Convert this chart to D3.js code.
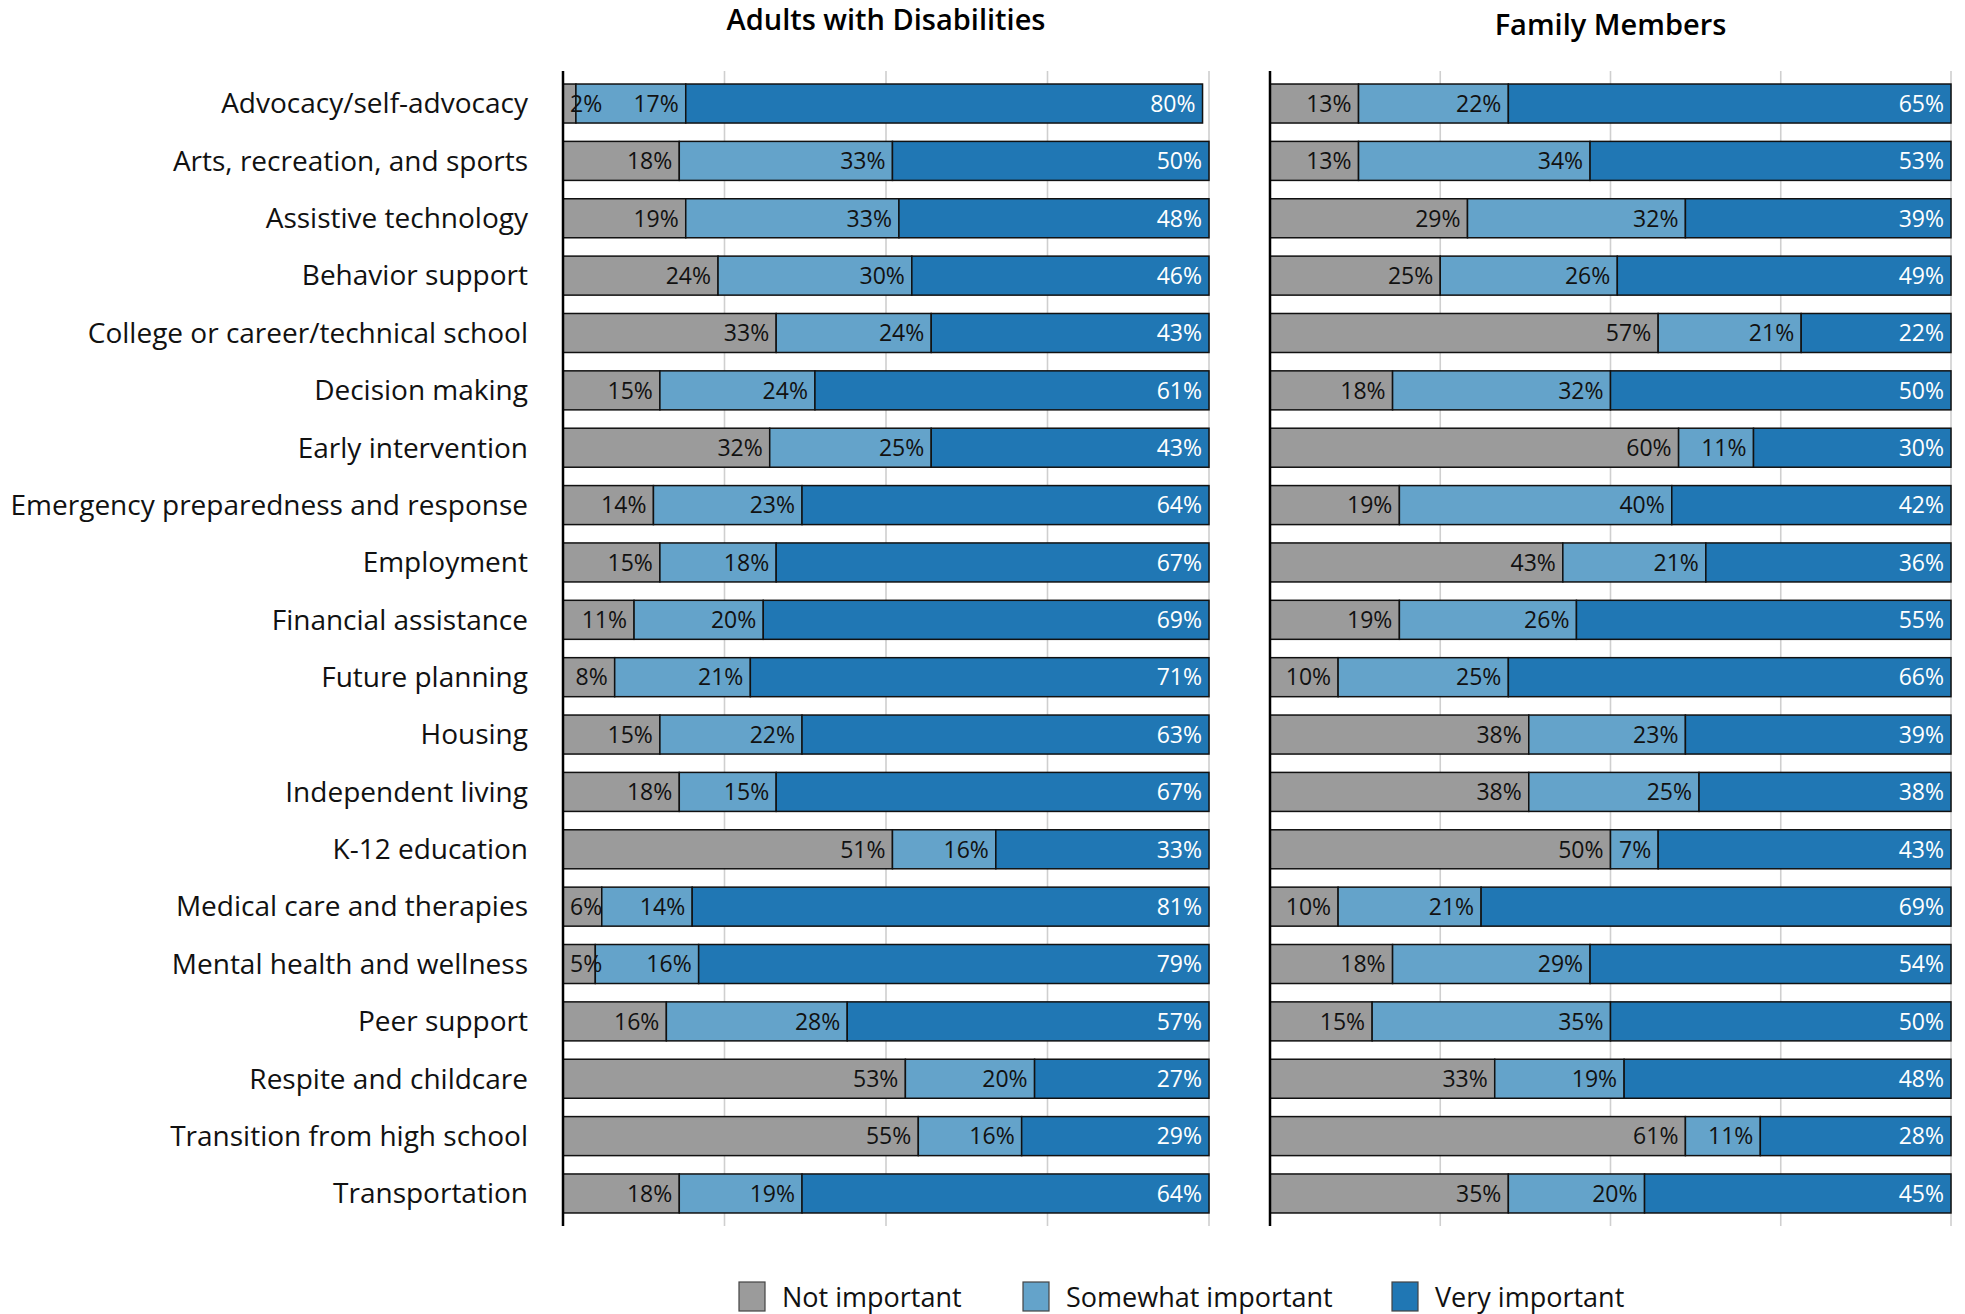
<!DOCTYPE html>
<html>
<head>
<meta charset="utf-8">
<script src="https://cdn.jsdelivr.net/npm/d3@7"></script>
<style>
  html, body { margin: 0; padding: 0; background: #fff; }
  svg { display: block; font-family: "Open Sans", "Noto Sans", sans-serif; }
</style>
</head>
<body>
<svg id="chart" width="1965" height="1314"></svg>
<script>
// Service areas, top to bottom
const categories = [
  "Advocacy/self-advocacy",
  "Arts, recreation, and sports",
  "Assistive technology",
  "Behavior support",
  "College or career/technical school",
  "Decision making",
  "Early intervention",
  "Emergency preparedness and response",
  "Employment",
  "Financial assistance",
  "Future planning",
  "Housing",
  "Independent living",
  "K-12 education",
  "Medical care and therapies",
  "Mental health and wellness",
  "Peer support",
  "Respite and childcare",
  "Transition from high school",
  "Transportation"
];

const seriesNames = ["Not important", "Somewhat important", "Very important"];
const panelTitles = ["Adults with Disabilities", "Family Members"];
const gridTicks = [25, 50, 75, 100];

// Adults with disabilities (percent)
const adultsNot  = [2, 18, 19, 24, 33, 15, 32, 14, 15, 11, 8, 15, 18, 51, 6, 5, 16, 53, 55, 18];
const adultsSome = [17, 33, 33, 30, 24, 24, 25, 23, 18, 20, 21, 22, 15, 16, 14, 16, 28, 20, 16, 19];
const adultsVery = [80, 50, 48, 46, 43, 61, 43, 64, 67, 69, 71, 63, 67, 33, 81, 79, 57, 27, 29, 64];

// Family members (percent)
const familyNot  = [13, 13, 29, 25, 57, 18, 60, 19, 43, 19, 10, 38, 38, 50, 10, 18, 15, 33, 61, 35];
const familySome = [22, 34, 32, 26, 21, 32, 11, 40, 21, 26, 25, 23, 25, 7, 21, 29, 35, 19, 11, 20];
const familyVery = [65, 53, 39, 49, 22, 50, 30, 42, 36, 55, 66, 39, 38, 43, 69, 54, 50, 48, 28, 45];

const colors = ["#9b9b9b", "#64a3ca", "#2077b4"];
const labelColors = ["#111", "#111", "#fff"];

const svg = d3.select("#chart");

const y = d3.scaleBand()
  .domain(categories)
  .range([71, 1226])
  .paddingInner(0.32)
  .paddingOuter(0.227);

const panels = [
  { title: panelTitles[0], x0: 563, x1: 1209, titleY: 30, values: [adultsNot, adultsSome, adultsVery] },
  { title: panelTitles[1], x0: 1270, x1: 1951, titleY: 35, values: [familyNot, familySome, familyVery] }
];

// Category labels on the left
svg.append("g")
  .selectAll("text")
  .data(categories)
  .join("text")
  .attr("x", 528)
  .attr("y", d => y(d) + y.bandwidth() / 2)
  .attr("dy", "0.35em")
  .attr("text-anchor", "end")
  .attr("font-size", 28)
  .attr("fill", "#111")
  .text(d => d);

const pad = 7;

panels.forEach(p => {
  const x = d3.scaleLinear().domain([0, 100]).range([p.x0, p.x1]).clamp(true);
  const g = svg.append("g");

  // Gridlines
  g.append("g")
    .selectAll("line")
    .data(gridTicks)
    .join("line")
    .attr("x1", d => x(d)).attr("x2", d => x(d))
    .attr("y1", y.range()[0]).attr("y2", y.range()[1])
    .attr("stroke", "#cfcfcf")
    .attr("stroke-width", 1.6);

  // Stacked rows
  const rows = categories.map((c, i) => {
    let acc = 0;
    return p.values.map((arr, k) => {
      const start = acc;
      acc += arr[i];
      return { cat: c, k, v: arr[i], start, end: acc };
    });
  });

  const segs = rows.flat();

  g.append("g")
    .selectAll("rect")
    .data(segs)
    .join("rect")
    .attr("x", d => x(d.start))
    .attr("y", d => y(d.cat))
    .attr("width", d => Math.max(0, x(d.end) - x(d.start)))
    .attr("height", y.bandwidth())
    .attr("fill", d => colors[d.k])
    .attr("stroke", "#111")
    .attr("stroke-width", 1.5);

  // Value labels: right-aligned inside each segment, but never starting
  // left of the segment's own left edge
  g.append("g")
    .selectAll("text")
    .data(segs)
    .join("text")
    .attr("y", d => y(d.cat) + y.bandwidth() / 2)
    .attr("dy", "0.36em")
    .attr("text-anchor", "end")
    .attr("font-size", 23)
    .attr("fill", d => labelColors[d.k])
    .text(d => d.v + "%")
    .attr("x", function(d) {
      const w = this.getComputedTextLength();
      return Math.max(x(d.end) - pad, x(d.start) + pad + w);
    });

  // Vertical axis line
  g.append("line")
    .attr("x1", p.x0).attr("x2", p.x0)
    .attr("y1", y.range()[0]).attr("y2", y.range()[1])
    .attr("stroke", "#000")
    .attr("stroke-width", 2.5);

  // Panel title
  g.append("text")
    .attr("x", (p.x0 + p.x1) / 2)
    .attr("y", p.titleY)
    .attr("text-anchor", "middle")
    .attr("font-size", 29)
    .attr("font-weight", 600)
    .attr("fill", "#000")
    .text(p.title);
});

// Legend
const legendX = [739, 1023, 1392];
const legend = svg.append("g")
  .selectAll("g")
  .data(seriesNames)
  .join("g")
  .attr("transform", (d, i) => `translate(${legendX[i]},1282)`);

legend.append("rect")
  .attr("width", 26)
  .attr("height", 29)
  .attr("fill", (d, i) => colors[i])
  .attr("stroke", "#444")
  .attr("stroke-width", 1.2);

legend.append("text")
  .attr("x", 43)
  .attr("y", 15)
  .attr("dy", "0.36em")
  .attr("font-size", 27)
  .attr("fill", "#111")
  .text(d => d);
</script>
</body>
</html>
